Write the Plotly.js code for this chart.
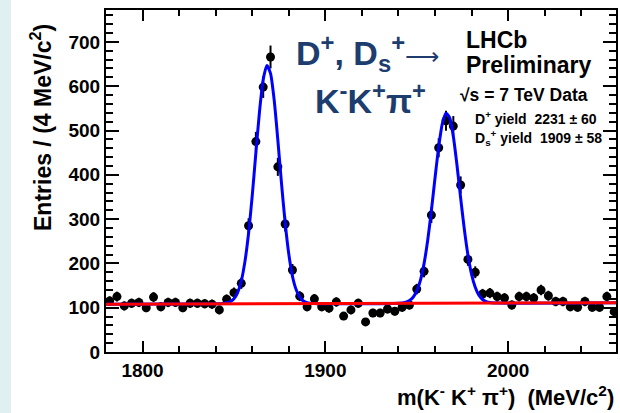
<!DOCTYPE html>
<html>
<head>
<meta charset="utf-8">
<script src="https://cdn.plot.ly/plotly-3.0.1.min.js"></script>
<style>html,body{margin:0;padding:0;background:#fff;}#chart{width:620px;height:413px;}</style>
</head>
<body>
<div id="chart"></div>
<script>
// Data (4 MeV bins)
const massBins = [1782,1786,1790,1794,1798,1802,1806,1810,1814,1818,1822,1826,1830,1834,1838,1842,1846,1850,1854,1858,1862,1866,1870,1874,1878,1882,1886,1890,1894,1898,1902,1906,1910,1914,1918,1922,1926,1930,1934,1938,1942,1946,1950,1954,1958,1962,1966,1970,1974,1978,1982,1986,1990,1994,1998,2002,2006,2010,2014,2018,2022,2026,2030,2034,2038,2042,2046,2050,2054,2058];
const entries  = [115,125,104,110,112,100,124,102,112,112,100,110,110,109,108,95,119,134,155,285,475,598,666,418,289,185,126,102,120,102,99,113,81,95,110,68,88,88,97,92,101,106,142,182,309,461,522,510,377,209,180,131,133,125,122,106,125,125,122,140,127,114,114,102,101,114,101,101,125,91];

// Total fit curve (blue)
const fitMass  = [1780,1840,1844,1846,1848,1850,1852,1854,1856,1858,1860,1862,1864,1866,1868,1870,1872,1874,1876,1878,1880,1882,1884,1886,1888,1890,1894,1940,1944,1946,1948,1950,1952,1954,1956,1958,1960,1962,1964,1966,1968,1970,1972,1974,1976,1978,1980,1982,1984,1986,1988,1990,1994,2060];
const fitTotal = [108,108.8,109.6,111,113.7,120,134,160,204,268,353,450,544,615,647,629,569,479,381,292,221,171,141,124,115,111.5,109.5,110,112.6,116,123.6,137.7,161.8,199.5,252.6,319,393,463,515.5,539,529,487,422,348,278,219,175,146,128,118.5,113.7,111.5,110.5,111];

// Background (red)
const bkgMass  = [1780,2060];
const bkgLevel = [108,111];

// Axis ticks
const xTickVals = [1800,1900,2000];
const xTickText = ["1800","1900","2000"];
const yTickVals = [0,100,200,300,400,500,600,700];
const yTickText = ["0","100","200","300","400","500","600","700"];

const FONT = "Liberation Sans, Arial, Helvetica, sans-serif";
const NAVY = "#1c3d6e";

// pixel helpers for paper coords (plot area: x 106..616, y 10..352)
const PX = p => (p - 106) / 510;
const PY = p => (352 - p) / 342;

const traces = [
  {
    x: massBins, y: entries, type: "scatter", mode: "markers",
    marker: {color: "#000", size: 9},
    error_y: {type: "sqrt", visible: true, color: "#000", thickness: 2, width: 0},
    hoverinfo: "skip", showlegend: false
  },
  {
    x: fitMass, y: fitTotal, type: "scatter", mode: "lines",
    line: {color: "#0000ff", width: 3, shape: "spline", smoothing: 0.6},
    hoverinfo: "skip", showlegend: false
  },
  {
    x: bkgMass, y: bkgLevel, type: "scatter", mode: "lines",
    line: {color: "#ff0000", width: 3},
    hoverinfo: "skip", showlegend: false
  }
];

const axisCommon = {
  showgrid: false, zeroline: false,
  showline: true, linecolor: "#000", linewidth: 2, mirror: "allticks",
  ticks: "inside", tickcolor: "#000", tickwidth: 2,
  tickfont: {family: FONT, size: 19, color: "#000", weight: "bold"}
};

const layout = {
  width: 620, height: 413,
  margin: {l: 106, r: 4, t: 10, b: 61, pad: 0},
  paper_bgcolor: "#fff", plot_bgcolor: "#fff",
  showlegend: false,
  xaxis: Object.assign({}, axisCommon, {
    range: [1780, 2059], tickmode: "array", tickvals: xTickVals, ticktext: xTickText,
    ticklen: 11,
    minor: {dtick: 20, tick0: 1780, ticks: "inside", ticklen: 6, tickcolor: "#000", tickwidth: 2, showgrid: false}
  }),
  yaxis: Object.assign({}, axisCommon, {
    range: [0, 772], tickmode: "array", tickvals: yTickVals, ticktext: yTickText,
    ticklen: 13,
    minor: {dtick: 20, tick0: 0, ticks: "inside", ticklen: 7, tickcolor: "#000", tickwidth: 2, showgrid: false}
  }),
  shapes: [
    {type: "rect", xref: "paper", yref: "paper", x0: PX(0), x1: PX(11), y0: PY(420), y1: PY(-5),
     fillcolor: "#dfeff2", line: {width: 0}, layer: "below"}
  ],
  annotations: [
    {xref: "paper", yref: "paper", x: PX(41), y: PY(128), xanchor: "center", yanchor: "middle",
     textangle: -90, showarrow: false,
     text: "Entries / (4 MeV/c<sup>2</sup>)",
     font: {family: FONT, size: 23, color: "#000", weight: "bold"}},
    {xref: "paper", yref: "paper", x: PX(616), y: PY(396), xanchor: "right", yanchor: "middle",
     showarrow: false,
     text: "m(K<sup>-</sup> K<sup>+</sup> π<sup>+</sup>)\u00a0\u00a0(MeV/c<sup>2</sup>)",
     font: {family: FONT, size: 22, color: "#000", weight: "bold"}},
    {xref: "paper", yref: "paper", x: PX(294), y: PY(53), xanchor: "left", yanchor: "middle",
     showarrow: false,
     text: "D<sup>+</sup>, D<sub>s</sub><sup>+</sup><span style=\"font-weight:normal;font-size:24px\">⟶</span>",
     font: {family: FONT, size: 34, color: NAVY, weight: "bold"}},
    {xref: "paper", yref: "paper", x: PX(313), y: PY(98), xanchor: "left", yanchor: "middle",
     showarrow: false,
     text: "K<sup>-</sup>K<sup>+</sup>π<sup>+</sup>",
     font: {family: FONT, size: 34, color: NAVY, weight: "bold"}},
    {xref: "paper", yref: "paper", x: PX(464), y: PY(39.5), xanchor: "left", yanchor: "middle",
     showarrow: false, text: "LHCb",
     font: {family: FONT, size: 23, color: "#000", weight: "bold"}},
    {xref: "paper", yref: "paper", x: PX(464), y: PY(65), xanchor: "left", yanchor: "middle",
     showarrow: false, text: "Preliminary",
     font: {family: FONT, size: 23, color: "#000", weight: "bold"}},
    {xref: "paper", yref: "paper", x: PX(458), y: PY(95), xanchor: "left", yanchor: "middle",
     showarrow: false, text: "√s = 7 TeV Data",
     font: {family: FONT, size: 17.5, color: "#000", weight: "bold"}},
    {xref: "paper", yref: "paper", x: PX(473), y: PY(118), xanchor: "left", yanchor: "middle",
     showarrow: false, text: "D<sup>+</sup> yield\u00a0 2231 ± 60",
     font: {family: FONT, size: 14, color: "#000", weight: "bold"}},
    {xref: "paper", yref: "paper", x: PX(473), y: PY(137.5), xanchor: "left", yanchor: "middle",
     showarrow: false, text: "D<sub>s</sub><sup>+</sup> yield\u00a0 1909 ± 58",
     font: {family: FONT, size: 14, color: "#000", weight: "bold"}}
  ]
};

Plotly.newPlot("chart", traces, layout, {displayModeBar: false, staticPlot: true});
</script>
</body>
</html>
